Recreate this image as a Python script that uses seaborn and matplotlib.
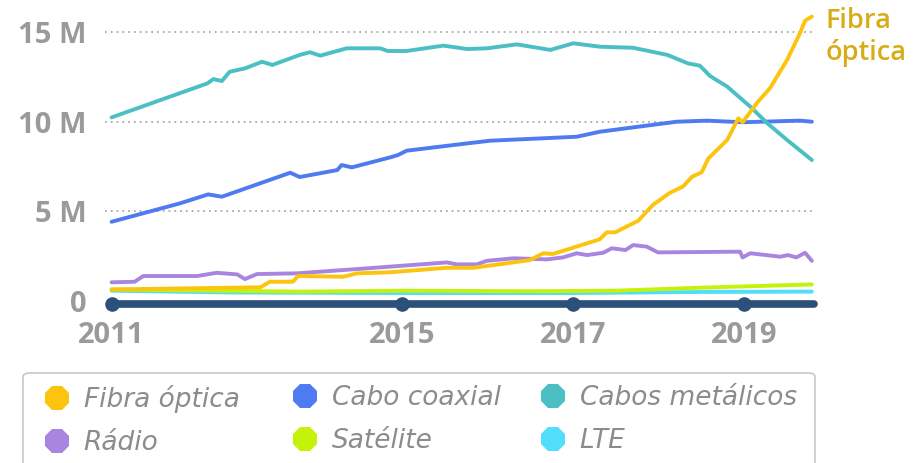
import matplotlib
matplotlib.use("Agg")
import matplotlib.pyplot as plt
from matplotlib.lines import Line2D
from matplotlib.patches import FancyBboxPatch
import seaborn as sns
import pandas as pd

# ---------------- data (values in millions, x in decimal years) ----------------
fibra_x = [2011.60, 2013.34, 2013.45, 2013.72, 2013.78, 2014.31, 2014.47, 2014.86, 2015.52,
           2015.83, 2016.22, 2016.49, 2016.65, 2016.76, 2017.31, 2017.39, 2017.49, 2017.76,
           2017.93, 2018.13, 2018.28, 2018.39, 2018.50, 2018.58, 2018.80, 2018.93, 2018.98,
           2019.16, 2019.30, 2019.50, 2019.65, 2019.71, 2019.79]
fibra_y = [0.62, 0.74, 1.05, 1.05, 1.37, 1.33, 1.52, 1.58, 1.83,
           1.83, 2.08, 2.26, 2.64, 2.60, 3.42, 3.81, 3.81, 4.46,
           5.34, 6.02, 6.36, 6.92, 7.16, 7.94, 8.97, 10.18, 9.96,
           11.11, 11.86, 13.44, 14.93, 15.63, 15.86]

coaxial_x = [2011.60, 2012.40, 2012.73, 2012.89, 2013.69, 2013.80, 2014.24, 2014.29, 2014.41,
             2014.86, 2014.95, 2015.05, 2015.76, 2016.03, 2017.04, 2017.31, 2018.21, 2018.56,
             2018.98, 2019.65, 2019.79]
coaxial_y = [4.40, 5.43, 5.93, 5.80, 7.14, 6.90, 7.29, 7.57, 7.44,
             8.00, 8.13, 8.37, 8.78, 8.93, 9.15, 9.43, 9.99, 10.05,
             9.96, 10.05, 9.99]

metal_x = [2011.60, 2012.72, 2012.79, 2012.89, 2012.98, 2013.16, 2013.36, 2013.48, 2013.80,
           2013.92, 2014.04, 2014.35, 2014.74, 2014.83, 2015.05, 2015.48, 2015.76, 2015.99,
           2016.34, 2016.73, 2017.00, 2017.31, 2017.70, 2018.10, 2018.34, 2018.48, 2018.60,
           2018.80, 2019.07, 2019.27, 2019.50, 2019.79]
metal_y = [10.23, 12.13, 12.37, 12.26, 12.78, 12.97, 13.34, 13.16, 13.72,
           13.87, 13.68, 14.09, 14.09, 13.94, 13.94, 14.24, 14.05, 14.09,
           14.31, 14.00, 14.37, 14.18, 14.12, 13.72, 13.25, 13.12, 12.54,
           11.95, 10.83, 9.90, 8.97, 7.85]

radio_x = [2011.60, 2011.87, 2011.97, 2012.60, 2012.83, 2013.07, 2013.16, 2013.30, 2013.77,
           2014.59, 2015.52, 2015.64, 2015.87, 2015.99, 2016.30, 2016.69, 2016.88, 2017.04,
           2017.16, 2017.35, 2017.45, 2017.61, 2017.70, 2017.86, 2017.99, 2018.95, 2018.98,
           2019.07, 2019.42, 2019.51, 2019.61, 2019.71, 2019.79]
radio_y = [1.02, 1.05, 1.37, 1.37, 1.55, 1.46, 1.20, 1.48, 1.52,
           1.80, 2.13, 2.02, 2.02, 2.22, 2.36, 2.30, 2.41, 2.64,
           2.54, 2.67, 2.92, 2.82, 3.10, 3.01, 2.69, 2.73, 2.41,
           2.64, 2.45, 2.54, 2.41, 2.67, 2.22]

satelite_x = [2011.60, 2013.80, 2015.00, 2016.50, 2017.50, 2018.50, 2019.79]
satelite_y = [0.62, 0.50, 0.55, 0.52, 0.55, 0.72, 0.90]

lte_x = [2011.60, 2013.00, 2015.00, 2017.00, 2018.50, 2019.79]
lte_y = [0.55, 0.45, 0.42, 0.42, 0.48, 0.50]

series_names = ["Fibra óptica", "Cabo coaxial", "Cabos metálicos", "Rádio", "Satélite", "LTE"]
series_colors = ["#FDC40F", "#4F7BF0", "#4CBFC4", "#A886DF", "#C5F20A", "#52DDF8"]
draw_order = ["LTE", "Satélite", "Rádio", "Cabo coaxial", "Cabos metálicos", "Fibra óptica"]

x_tick_pos = [2011.60, 2015, 2017, 2019]
x_tick_labels = ["2011", "2015", "2017", "2019"]
y_tick_pos = [0, 5, 10, 15]
y_tick_labels = ["0", "5 M", "10 M", "15 M"]

# ---------------- build table ----------------
frames = []
for name, xs, ys in [("Fibra óptica", fibra_x, fibra_y), ("Cabo coaxial", coaxial_x, coaxial_y),
                     ("Cabos metálicos", metal_x, metal_y), ("Rádio", radio_x, radio_y),
                     ("Satélite", satelite_x, satelite_y), ("LTE", lte_x, lte_y)]:
    frames.append(pd.DataFrame({"serie": name, "ano": xs, "valor": ys}))
df = pd.concat(frames, ignore_index=True)
palette = dict(zip(series_names, series_colors))

# ---------------- figure ----------------
sns.set_theme(style="white")
plt.rcParams['font.family'] = ['Open Sans', 'DejaVu Sans']

W, H = 918, 463
fig = plt.figure(figsize=(W / 100, H / 100), dpi=100)
ax = fig.add_axes([105 / W, (H - 309.5) / H, (814 - 105) / W, (309.5 - 10) / H])

for v in y_tick_pos[1:]:
    ax.axhline(v, color="#a9a9a9", lw=1.3, ls=(0, (1, 2.2)), zorder=0)

sns.lineplot(data=df, x="ano", y="valor", hue="serie", hue_order=draw_order,
             palette=palette, linewidth=2.8, legend=False, ax=ax,
             estimator=None, sort=False)

# timeline bar
x0, x1 = min(fibra_x), max(fibra_x)
ax.plot([x0, x1 + 0.02], [-0.2, -0.2], color="#2B5079", lw=5.5,
        solid_capstyle="round", clip_on=False, zorder=5)
ax.scatter(x_tick_pos, [-0.2] * len(x_tick_pos), s=110, color="#2B5079",
           clip_on=False, zorder=6, linewidths=0)

ax.set_xlim(2011.523, 2019.815)
ax.set_ylim(-0.5, 16.23)
ax.set_xlabel("")
ax.set_ylabel("")
for s in ax.spines.values():
    s.set_visible(False)

ax.set_yticks(y_tick_pos)
ax.set_yticklabels(y_tick_labels)
ax.set_xticks(x_tick_pos)
ax.set_xticklabels(x_tick_labels)
ax.tick_params(axis="y", length=0, pad=13, labelsize=21, labelcolor="#9A9A9A")
ax.tick_params(axis="x", length=0, pad=8, labelsize=21, labelcolor="#9A9A9A")
for lab in ax.get_xticklabels() + ax.get_yticklabels():
    lab.set_fontweight("bold")

# end label
ax.annotate("Fibra\nóptica", xy=(fibra_x[-1], fibra_y[-1]), xytext=(10, 7),
            textcoords="offset points", ha="left", va="top", fontsize=19.5,
            color="#D6AC17", fontweight="semibold", linespacing=1.2,
            annotation_clip=False)

# legend frame
frame = FancyBboxPatch((23 / W, -0.05), (815 - 23) / W, (0.05 + (H - 373) / H),
                       boxstyle="round,pad=0,rounding_size=0.008",
                       transform=fig.transFigure, facecolor="white",
                       edgecolor="#C8C8C8", lw=1.2, clip_on=False)
fig.patches.append(frame)

cols = [["Fibra óptica", "Rádio"], ["Cabo coaxial", "Satélite"], ["Cabos metálicos", "LTE"]]
col_x = [44, 292, 540]
for names, cx in zip(cols, col_x):
    handles = [Line2D([], [], marker="8", ls="", markersize=18,
                      color=palette[n], markeredgewidth=0) for n in names]
    fig.legend(handles, names, loc="upper left", bbox_to_anchor=(cx / W, 1 - 385 / H),
               frameon=False, handlelength=1.0, handletextpad=0.5,
               labelspacing=0.66, borderpad=0, borderaxespad=0,
               prop={"family": "DejaVu Sans", "style": "italic", "size": 19},
               labelcolor="#8C8C8C")

fig.savefig("out.png", dpi=100)
